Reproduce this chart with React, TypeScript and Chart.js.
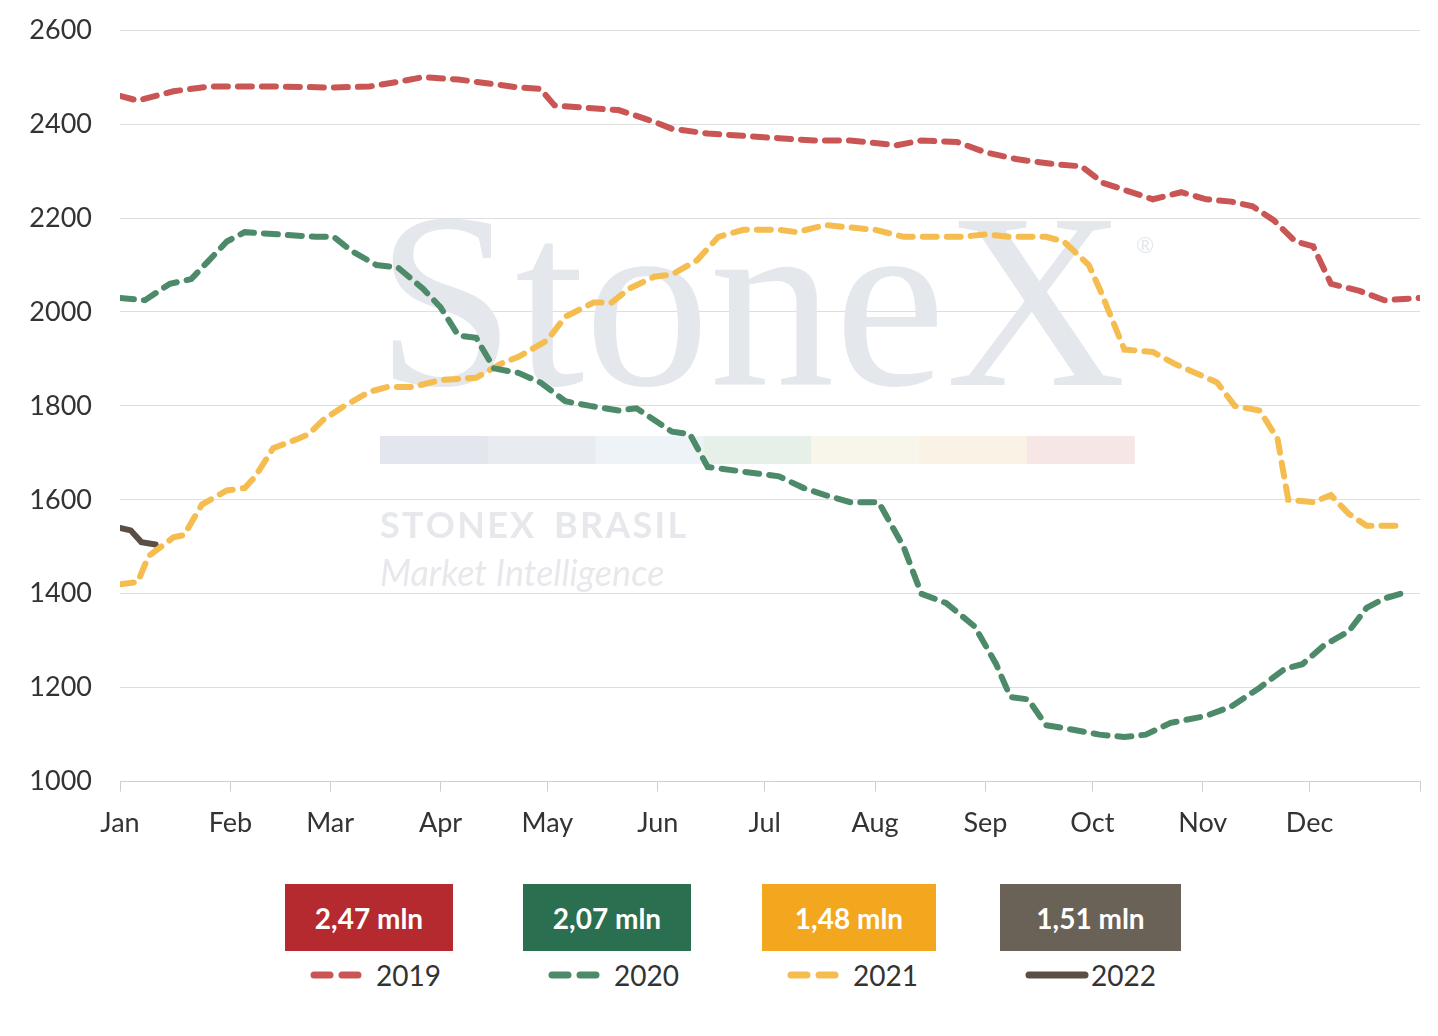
import React, { useEffect, useRef } from "react";
import Chart from "chart.js/auto";

const monthLabels = ["Jan", "Feb", "Mar", "Apr", "May", "Jun", "Jul", "Aug", "Sep", "Oct", "Nov", "Dec"];
const monthStarts = [0, 31, 59, 90, 120, 151, 181, 212, 243, 273, 304, 334];

const days2019 = [0, 5, 15, 25, 31, 45, 59, 70, 78, 85, 95, 105, 112, 118, 122, 130, 140, 150, 155, 165, 175, 185, 195, 205, 212, 218, 225, 235, 243, 252, 262, 270, 276, 282, 290, 298, 305, 312, 318, 324, 330, 335, 340, 348, 355, 365];
const vals2019 = [2460, 2450, 2470, 2480, 2480, 2480, 2478, 2480, 2490, 2500, 2495, 2485, 2478, 2475, 2440, 2435, 2430, 2405, 2390, 2380, 2375, 2370, 2365, 2365, 2360, 2355, 2365, 2362, 2340, 2325, 2315, 2310, 2275, 2260, 2240, 2255, 2240, 2235, 2225, 2195, 2150, 2140, 2060, 2045, 2025, 2030];

const days2020 = [0, 7, 14, 20, 25, 30, 35, 45, 55, 60, 65, 72, 78, 85, 90, 95, 100, 105, 112, 118, 125, 132, 140, 145, 150, 155, 160, 165, 175, 185, 192, 198, 205, 213, 220, 225, 232, 240, 246, 250, 255, 260, 268, 275, 282, 288, 295, 305, 312, 320, 327, 332, 338, 345, 350, 355, 362];
const vals2020 = [2030, 2025, 2060, 2070, 2110, 2150, 2170, 2165, 2160, 2160, 2130, 2100, 2095, 2050, 2010, 1950, 1945, 1880, 1870, 1850, 1810, 1800, 1790, 1795, 1770, 1745, 1740, 1670, 1660, 1650, 1625, 1610, 1595, 1595, 1500, 1400, 1380, 1330, 1250, 1180, 1175, 1120, 1110, 1100, 1095, 1100, 1125, 1140, 1160, 1200, 1240, 1250, 1290, 1320, 1370, 1390, 1405];

const days2021 = [0, 5, 8, 15, 18, 23, 30, 35, 38, 43, 50, 53, 57, 63, 70, 75, 82, 90, 100, 107, 112, 120, 125, 133, 138, 143, 150, 155, 162, 168, 175, 185, 190, 198, 205, 212, 220, 230, 236, 243, 250, 260, 265, 272, 275, 282, 290, 296, 302, 308, 313, 320, 325, 328, 335, 340, 345, 350, 360];
const vals2021 = [1420, 1425, 1480, 1520, 1525, 1590, 1620, 1625, 1650, 1710, 1730, 1740, 1770, 1800, 1830, 1840, 1840, 1855, 1860, 1890, 1905, 1940, 1990, 2020, 2020, 2050, 2075, 2080, 2110, 2160, 2175, 2175, 2170, 2185, 2180, 2175, 2160, 2160, 2160, 2165, 2160, 2160, 2150, 2100, 2050, 1920, 1915, 1890, 1870, 1850, 1800, 1790, 1730, 1600, 1595, 1610, 1570, 1545, 1545];

const days2022 = [0, 3, 6, 10];
const vals2022 = [1540, 1535, 1510, 1505];

const yTicks = [1000, 1200, 1400, 1600, 1800, 2000, 2200, 2400, 2600];

const legendItems = [
  { box: "#b42a2f", line: "#c95555", text: "2,47 mln", year: "2019", dashed: true, left: 285, width: 168 },
  { box: "#2a7050", line: "#4d8a6a", text: "2,07 mln", year: "2020", dashed: true, left: 523, width: 168 },
  { box: "#f2a71e", line: "#f5bd50", text: "1,48 mln", year: "2021", dashed: true, left: 762, width: 174 },
  { box: "#6b6257", line: "#5a4e45", text: "1,51 mln", year: "2022", dashed: false, left: 1000, width: 181 },
];

const toPts = (d: number[], v: number[]) => d.map((x, i) => ({ x, y: v[i] }));

// canvas is shifted up by 14px, so watermark y values are +14
const watermark = {
  id: "watermark",
  beforeDatasetsDraw(chart: any) {
    const { ctx } = chart;
    ctx.save();
    ctx.fillStyle = "#e4e7ec";
    ctx.font = "250px 'Liberation Serif', serif";
    ctx.textBaseline = "alphabetic";
    ctx.fillText("StoneX", 376, 399);
    ctx.font = "22px Lato";
    ctx.fillText("®", 1136, 267);
    const cols = ["#e3e6ec", "#e8ecf1", "#eef3f8", "#e6efe8", "#f8f6ea", "#fbf2e6", "#f6e6e6"];
    cols.forEach((c, i) => {
      ctx.fillStyle = c;
      ctx.fillRect(380 + i * 107.8, 450, 108, 28);
    });
    ctx.fillStyle = "#e6e8ec";
    ctx.font = "bold 36px Lato";
    ctx.fillText("S T O N E X   B R A S I L".replace(/ (?! )/g, "\u200a"), 380, 552);
    ctx.font = "italic 36px Lato";
    ctx.fillText("Market Intelligence", 380, 600);
    ctx.restore();
  },
};

export default function App() {
  const ref = useRef<HTMLCanvasElement | null>(null);

  useEffect(() => {
    if (!ref.current) return;
    const ds = (label: string, d: number[], v: number[], color: string, dash: number[]) => ({
      label,
      data: toPts(d, v),
      borderColor: color,
      borderWidth: 6,
      borderDash: dash,
      borderCapStyle: "round" as const,
      pointRadius: 0,
      tension: 0,
      fill: false,
    });
    const chart = new Chart(ref.current, {
      type: "line",
      data: {
        datasets: [
          ds("2019", days2019, vals2019, "#c95555", [14, 10]),
          ds("2020", days2020, vals2020, "#4d8a6a", [14, 10]),
          ds("2021", days2021, vals2021, "#f5bd50", [14, 10]),
          ds("2022", days2022, vals2022, "#5a4e45", []),
        ],
      },
      options: {
        animation: false,
        responsive: false,
        layout: { padding: { top: 0, right: 18, left: 12, bottom: 0 } },
        plugins: { legend: { display: false }, tooltip: { enabled: false } },
        scales: {
          x: {
            type: "linear",
            min: 0,
            max: 365,
            afterBuildTicks: (s: any) => {
              s.ticks = [...monthStarts, 365].map((value) => ({ value }));
            },
            ticks: {
              autoSkip: false,
              maxRotation: 0,
              color: "#333",
              font: { family: "Lato", size: 27 },
              padding: 15,
              callback: (v: any) => {
                const i = monthStarts.indexOf(Number(v));
                return i >= 0 ? monthLabels[i] : "";
              },
            },
            grid: { display: true, drawOnChartArea: false, color: "#cfcfcf", tickLength: 10 },
            border: { color: "#cfcfcf" },
          },
          y: {
            min: 1000,
            max: 2600,
            afterBuildTicks: (s: any) => {
              s.ticks = yTicks.map((value) => ({ value }));
            },
            afterFit: (s: any) => {
              s.width = 108;
            },
            ticks: { color: "#333", font: { family: "Lato", size: 27 }, padding: 28, callback: (v: any) => String(v) },
            grid: { color: "#dedede", drawTicks: false },
            border: { display: false },
          },
        },
      },
      plugins: [watermark],
    });
    return () => chart.destroy();
  }, []);

  return (
    <div style={{ position: "absolute", left: 0, top: 0, width: 1438, height: 1036, background: "#fff", fontFamily: "Lato", overflow: "hidden" }}>
      <canvas ref={ref} width={1438} height={868} style={{ display: "block", position: "absolute", left: 0, top: -14 }} />
      {legendItems.map((it) => (
        <div key={it.year}>
          <div style={{ position: "absolute", left: it.left, top: 884, width: it.width, height: 67, background: it.box, color: "#fff", fontWeight: "bold", fontSize: 28, display: "flex", alignItems: "center", justifyContent: "center" }}>
            {it.text}
          </div>
          <div style={{ position: "absolute", left: it.left + 25, top: 958, display: "flex", alignItems: "center", fontSize: 28, color: "#333" }}>
            <svg width="64" height="10" style={{ marginRight: 2 }}>
              <line x1="4" y1="5" x2="60" y2="5" stroke={it.line} strokeWidth="7" strokeLinecap="round" strokeDasharray={it.dashed ? "16 12" : undefined} />
            </svg>
            {it.year}
          </div>
        </div>
      ))}
    </div>
  );
}
